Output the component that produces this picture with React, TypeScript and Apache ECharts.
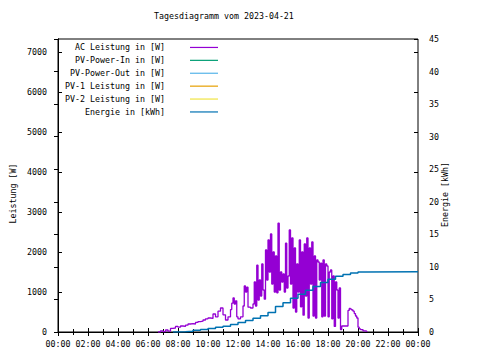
import React, { useEffect, useRef } from "react";
import * as echarts from "echarts";

const titleText = "Tagesdiagramm vom 2023-04-21";
const xTickLabels = ["00:00", "02:00", "04:00", "06:00", "08:00", "10:00", "12:00", "14:00", "16:00", "18:00", "20:00", "22:00", "00:00"];
const seriesNames = [
  "AC Leistung in [W]",
  "PV-Power-In in [W]",
  "PV-Power-Out in [W]",
  "PV-1 Leistung in [W]",
  "PV-2 Leistung in [W]",
  "Energie in [kWh]",
];
const seriesColors = ["#9400d3", "#009e73", "#56b4e9", "#e69f00", "#f0e442", "#0072b2"];
const leftAxisName = "Leistung [W]";
const rightAxisName = "Energie [kWh]";

const acTimes = [
  "06:40", "06:50", "07:00", "07:10", "07:20", "07:30", "07:40", "07:50", "08:00", "08:10",
  "08:20", "08:30", "08:40", "08:50", "09:00", "09:10", "09:20", "09:30", "09:40", "09:50",
  "10:00", "10:10", "10:20", "10:30", "10:40", "10:50", "11:00", "11:10", "11:20", "11:30",
  "11:35", "11:40", "11:45", "11:50", "11:55", "12:00", "12:10", "12:20", "12:25", "12:30",
  "12:35", "12:40", "12:50", "13:00", "13:05", "13:10", "13:15", "13:20", "13:25", "13:30",
  "13:35", "13:40", "13:45", "13:50", "13:55", "14:00", "14:05", "14:10", "14:15", "14:20",
  "14:25", "14:30", "14:35", "14:40", "14:45", "14:50", "14:55", "15:00", "15:05", "15:10",
  "15:15", "15:20", "15:25", "15:30", "15:35", "15:40", "15:45", "15:50", "15:55", "16:00",
  "16:05", "16:10", "16:15", "16:20", "16:25", "16:30", "16:35", "16:40", "16:45", "16:50",
  "16:55", "17:00", "17:05", "17:10", "17:15", "17:20", "17:25", "17:30", "17:35", "17:40",
  "17:45", "17:50", "17:55", "18:00", "18:05", "18:10", "18:15", "18:20", "18:25", "18:30",
  "18:35", "18:40", "18:45", "18:50", "18:55", "19:00", "19:05", "19:10", "19:15", "19:20",
  "19:25", "19:30", "19:35", "19:40", "19:45", "19:50", "19:55", "20:00", "20:05", "20:10",
  "20:20", "20:30", "20:35",
];
const acValues = [
  0, 30, 10, 50, 20, 90, 100, 140, 120, 150,
  140, 170, 200, 210, 200, 240, 260, 270, 300, 330,
  350, 340, 450, 380, 520, 600, 430, 300, 380, 560,
  720, 850, 700, 780, 380, 330, 380, 650, 1150, 1000,
  1120, 620, 600, 700, 1250, 650, 1670, 800, 1300, 900,
  1700, 1050, 820, 2050, 1300, 2300, 1500, 2450, 1200, 2000,
  1000, 1900, 980, 2720, 1050, 1500, 1250, 1450, 1000, 2220,
  1100, 1400, 2550, 1200, 2350, 600, 2100, 500, 1700, 1000,
  2300, 630, 2000, 420, 2200, 900, 2350, 350, 2100, 1200,
  2250, 400, 1900, 350, 1800, 1750, 1300, 1720, 380, 1800,
  400, 1700, 1650, 380, 1500, 1550, 330, 1400, 140, 1250,
  1050, 350, 1100, 60, 150, 150, 150, 150, 150, 540,
  590, 570, 550, 520, 460, 400, 350, 120, 80, 60,
  30, 20, 0,
];

const energyTimes = [
  "07:40", "08:00", "08:30", "09:00", "09:30", "10:00", "10:30", "11:00", "11:30", "12:00",
  "12:30", "13:00", "13:30", "14:00", "14:30", "15:00", "15:30", "16:00", "16:30", "17:00",
  "17:30", "18:00", "18:30", "19:00", "19:30", "20:00", "20:30", "24:00",
];
const energyValues = [
  0, 0.03, 0.12, 0.25, 0.38, 0.55, 0.72, 0.9, 1.15, 1.45,
  1.75, 2.1, 2.5, 3.0, 3.9, 4.5, 5.2, 5.8, 6.4, 7.0,
  7.6, 8.1, 8.55, 8.85, 9.05, 9.2, 9.25, 9.25,
];

const toHours = (s: string) => {
  const [h, m] = s.split(":").map(Number);
  return h + m / 60;
};

const FONT = "DejaVu Sans Mono";
const FS = 8.3;

export default function App() {
  const ref = useRef<HTMLDivElement>(null);
  useEffect(() => {
    if (!ref.current) return;
    const chart = echarts.init(ref.current, undefined, { renderer: "svg" });
    const acData = acTimes.map((t, i) => [toHours(t), acValues[i]]);
    const enData = energyTimes.map((t, i) => [toHours(t), energyValues[i]]);
    const labelStyle = { fontFamily: FONT, fontSize: FS, color: "#000" };
    const xBase = {
      type: "value" as const,
      min: 0,
      max: 24,
      interval: 2,
      splitLine: { show: false },
      axisLine: { show: true, lineStyle: { color: "#000", width: 1 } },
      axisTick: { show: true, inside: true, length: 4, lineStyle: { color: "#000" } },
      minorTick: { show: true, splitNumber: 2, length: 3, lineStyle: { color: "#000" } },
    };
    const option: any = {
      animation: false,
      backgroundColor: "#fff",
      title: {
        text: titleText,
        left: 154,
        top: 12,
        padding: 0,
        textStyle: { fontFamily: FONT, fontSize: FS, fontWeight: "normal", color: "#000" },
      },
      legend: {
        orient: "vertical",
        right: 262,
        top: 41,
        padding: 0,
        align: "right",
        itemGap: 0,
        itemWidth: 28,
        itemHeight: 1.2,
        icon: "rect",
        selectedMode: false,
        data: seriesNames,
        textStyle: { ...labelStyle, lineHeight: 12.9, padding: [0, 20, 0, 0] },
      },
      grid: { left: 58, right: 62, top: 39, bottom: 28, show: true, borderColor: "#000", borderWidth: 1 },
      xAxis: [
        {
          ...xBase,
          position: "bottom",
          axisLabel: {
            ...labelStyle,
            margin: 8,
            formatter: (v: number) => xTickLabels[Math.round(v / 2)] ?? "",
          },
        },
        { ...xBase, position: "top", axisLabel: { show: false } },
      ],
      yAxis: [
        {
          type: "value",
          position: "left",
          min: 0,
          max: 7325,
          interval: 1000,
          splitLine: { show: false },
          axisLine: { show: true, lineStyle: { color: "#000" } },
          axisTick: { show: true, inside: true, length: 4, lineStyle: { color: "#000" } },
          axisLabel: { ...labelStyle, margin: 11, showMaxLabel: false, formatter: (v: number) => String(v) },
          name: leftAxisName,
          nameLocation: "middle",
          nameRotate: 90,
          nameGap: 41,
          nameMoveOverlap: false,
          nameTextStyle: { ...labelStyle, padding: [0, 16, 0, 0] },
        },
        {
          type: "value",
          position: "right",
          min: 0,
          max: 45,
          interval: 5,
          splitLine: { show: false },
          axisLine: { show: true, lineStyle: { color: "#000" } },
          axisTick: { show: true, inside: true, length: 4, lineStyle: { color: "#000" } },
          axisLabel: { ...labelStyle, margin: 11, formatter: (v: number) => String(v) },
          name: rightAxisName,
          nameLocation: "middle",
          nameRotate: 90,
          nameGap: 23,
          nameMoveOverlap: false,
          nameTextStyle: { ...labelStyle, padding: [0, 18, 0, 0] },
        },
        {
          type: "value",
          position: "right",
          min: 0,
          max: 7325,
          interval: 1000,
          splitLine: { show: false },
          axisLine: { show: false },
          axisTick: { show: true, inside: true, length: 4, lineStyle: { color: "#000" } },
          axisLabel: { show: false },
        },
      ],
      series: [
        {
          name: seriesNames[0],
          type: "line",
          step: "end",
          xAxisIndex: 0,
          yAxisIndex: 0,
          data: acData,
          showSymbol: false,
          color: seriesColors[0],
          lineStyle: { color: seriesColors[0], width: 1.3 },
        },
        ...[1, 2, 3, 4].map((i) => ({
          name: seriesNames[i],
          type: "line",
          yAxisIndex: 0,
          data: [],
          showSymbol: false,
          color: seriesColors[i],
          lineStyle: { color: seriesColors[i], width: 1.3 },
        })),
        {
          name: seriesNames[5],
          type: "line",
          step: "end",
          xAxisIndex: 0,
          yAxisIndex: 1,
          data: enData,
          showSymbol: false,
          color: seriesColors[5],
          lineStyle: { color: seriesColors[5], width: 1.5 },
        },
      ],
    };
    chart.setOption(option);
    return () => chart.dispose();
  }, []);
  return <div ref={ref} style={{ position: "absolute", left: 0, top: 0, width: 480, height: 360 }} />;
}
